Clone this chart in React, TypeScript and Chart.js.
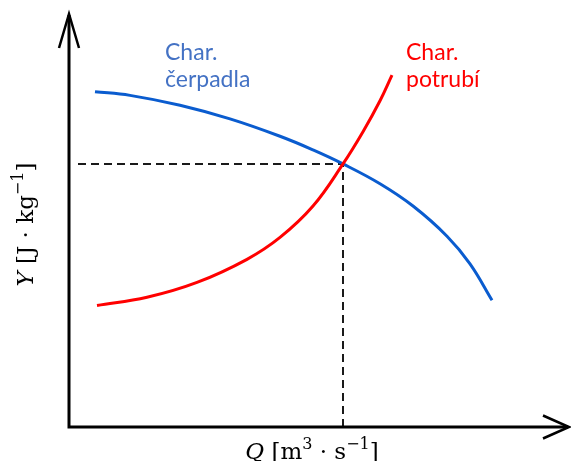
import { useEffect, useRef } from "react";
import { Chart, registerables } from "chart.js";

Chart.register(...registerables);

// Pump characteristic (Q, Y)
const pumpQ = [0.52, 1.22, 2.22, 3.22, 4.22, 4.88, 5.48, 6.22, 6.88, 7.56, 8.02, 8.46];
const pumpY = [8.12, 8.03, 7.79, 7.46, 7.04, 6.71, 6.37, 5.89, 5.35, 4.62, 3.95, 3.07];

// Pipeline characteristic (Q, Y)
const pipeQ = [0.56, 1.56, 2.56, 3.56, 4.22, 4.88, 5.48, 5.88, 6.22, 6.46];
const pipeY = [2.94, 3.14, 3.5, 4.06, 4.59, 5.35, 6.37, 7.15, 7.9, 8.52];

// Operating point where both characteristics cross
const dutyQ = 5.48;
const dutyY = 6.37;
const guideStartQ = 0.18;

const qMin = 0;
const qMax = 10;
const yMin = 0;
const yMax = 10;

const pumpLabel = ["Char.", "čerpadla"];
const pipeLabel = ["Char.", "potrubí"];

type Seg = { t: string; it?: boolean; sup?: boolean };
const qAxisTitle: Seg[] = [
  { t: "Q", it: true },
  { t: " [m" },
  { t: "3", sup: true },
  { t: " · s" },
  { t: "−1", sup: true },
  { t: "]" },
];
const yAxisTitle: Seg[] = [
  { t: "Y", it: true },
  { t: " [J · kg" },
  { t: "−1", sup: true },
  { t: "]" },
];

const BLUE = "#0a5ccf";
const RED = "#ff0000";
const BLUE_TEXT = "#4472c4";
const SERIF = "'DejaVu Serif', serif";
const SANS = "Lato, 'Open Sans', sans-serif";

function segFont(s: Seg, size: number) {
  const sz = s.sup ? Math.round(size * 0.68) : size;
  return `${s.it ? "italic " : ""}${sz}px ${SERIF}`;
}

function drawRich(ctx: CanvasRenderingContext2D, segs: Seg[], cx: number, by: number, size: number) {
  let total = 0;
  for (const s of segs) {
    ctx.font = segFont(s, size);
    total += ctx.measureText(s.t).width;
  }
  let x = cx - total / 2;
  ctx.textAlign = "left";
  ctx.textBaseline = "alphabetic";
  for (const s of segs) {
    ctx.font = segFont(s, size);
    ctx.fillText(s.t, x, s.sup ? by - size * 0.42 : by);
    x += ctx.measureText(s.t).width;
  }
}

const axesPlugin = {
  id: "arrowAxes",
  afterDatasetsDraw(chart: Chart) {
    const { ctx, chartArea } = chart;
    const { left, right, top, bottom } = chartArea;
    const xs = chart.scales.x;
    const ys = chart.scales.y;
    ctx.save();
    ctx.strokeStyle = "#000";
    ctx.lineCap = "butt";
    ctx.lineWidth = 3;
    ctx.beginPath();
    ctx.moveTo(left, bottom + 1.5);
    ctx.lineTo(left, top + 1);
    ctx.moveTo(left - 1.5, bottom);
    ctx.lineTo(right - 1, bottom);
    ctx.stroke();

    // open arrow heads
    ctx.lineWidth = 2.5;
    ctx.lineJoin = "miter";
    ctx.beginPath();
    ctx.moveTo(left - 10, top + 34);
    ctx.lineTo(left, top);
    ctx.lineTo(left + 10, top + 34);
    ctx.moveTo(right - 26, bottom - 11.5);
    ctx.lineTo(right, bottom);
    ctx.lineTo(right - 26, bottom + 11.5);
    ctx.stroke();

    // curve captions
    ctx.font = `23px ${SANS}`;
    ctx.textAlign = "left";
    ctx.textBaseline = "alphabetic";
    ctx.fillStyle = BLUE_TEXT;
    const bx = xs.getPixelForValue(1.92);
    const by = ys.getPixelForValue(8.89);
    ctx.fillText(pumpLabel[0], bx, by);
    ctx.fillText(pumpLabel[1], bx, by + 27);
    ctx.fillStyle = RED;
    const rx = xs.getPixelForValue(6.74);
    ctx.fillText(pipeLabel[0], rx, by);
    ctx.fillText(pipeLabel[1], rx, by + 27);

    // axis titles
    ctx.fillStyle = "#000";
    drawRich(ctx, qAxisTitle, (left + right) / 2 - 7, bottom + 32, 23);
    ctx.translate(left - 36, (top + bottom) / 2 + 4);
    ctx.rotate(-Math.PI / 2);
    drawRich(ctx, yAxisTitle, 0, 0, 23);
    ctx.restore();
  },
};

export default function App() {
  const ref = useRef<HTMLCanvasElement | null>(null);

  useEffect(() => {
    if (!ref.current) return;
    const pump = pumpQ.map((q, i) => ({ x: q, y: pumpY[i] }));
    const pipe = pipeQ.map((q, i) => ({ x: q, y: pipeY[i] }));
    const chart = new Chart(ref.current, {
      type: "line",
      data: {
        datasets: [
          {
            data: pipe,
            borderColor: RED,
            borderWidth: 3,
            tension: 0.4,
            pointRadius: 0,
            order: 1,
          },
          {
            data: pump,
            borderColor: BLUE,
            borderWidth: 3,
            tension: 0.4,
            pointRadius: 0,
            order: 2,
          },
          {
            data: [
              { x: guideStartQ, y: dutyY },
              { x: dutyQ, y: dutyY },
              { x: dutyQ, y: yMin },
            ],
            borderColor: "#1a1a1a",
            borderWidth: 2,
            borderDash: [8, 5],
            pointRadius: 0,
            tension: 0,
            order: 3,
          },
        ],
      },
      options: {
        animation: false,
        responsive: false,
        events: [],
        layout: { padding: { left: 69, right: 2, top: 14, bottom: 34 } },
        scales: {
          x: { type: "linear", min: qMin, max: qMax, display: false },
          y: { type: "linear", min: yMin, max: yMax, display: false },
        },
        plugins: { legend: { display: false }, tooltip: { enabled: false } },
      },
      plugins: [axesPlugin],
    });
    return () => chart.destroy();
  }, []);

  return (
    <div style={{ position: "absolute", left: 0, top: 0, width: 571, height: 461, background: "#fff" }}>
      <canvas ref={ref} width={571} height={461} style={{ width: 571, height: 461 }} />
    </div>
  );
}
